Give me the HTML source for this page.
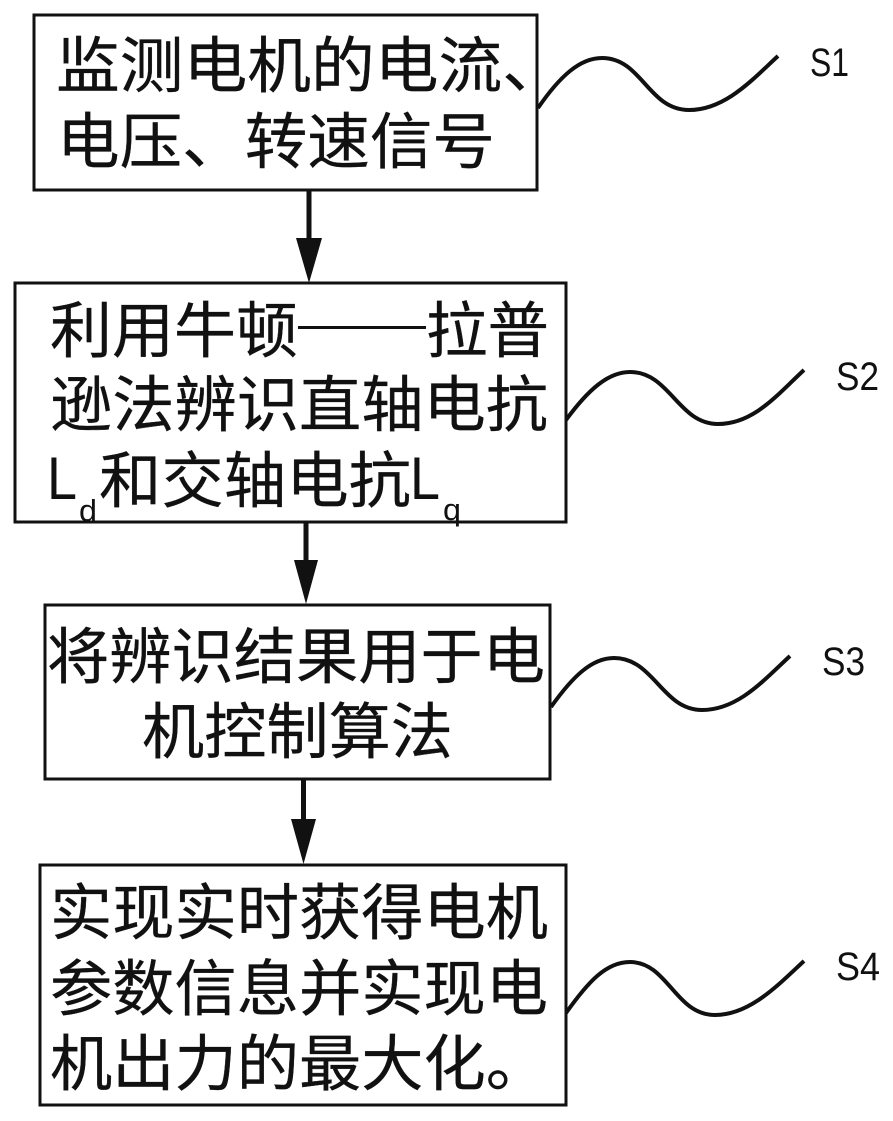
<!DOCTYPE html>
<html><head><meta charset="utf-8"><style>
html,body{margin:0;padding:0;background:#fff}
svg{display:block}
text{font-family:"Liberation Sans","Noto Sans CJK SC",sans-serif;fill:#111}
.c{font-size:61px;font-family:"WenQuanYi Zen Hei","Noto Sans CJK SC",sans-serif;stroke:#111;stroke-width:.3}
.l{font-size:60px}
.b{font-size:31px}
.s{font-size:40px}
</style></head><body>
<svg width="893" height="1121" viewBox="0 0 893 1121" xmlns="http://www.w3.org/2000/svg">
<g fill="none" stroke="#111" stroke-width="3">
<rect x="34" y="15" width="503" height="175"/>
<rect x="15" y="283" width="551" height="239"/>
<rect x="45" y="605" width="505" height="174"/>
<rect x="40" y="865" width="526" height="240"/>
</g>
<g fill="none" stroke="#111" stroke-width="4">
<path d="M538 108C560 76 580 58 602 58C642 58 648 110 689 110C725 110 752 80 778 56"/>
<path d="M566 420C588 390 608 372 630 372C670 372 678 424 718 424C754 424 778 394 804 370"/>
<path d="M551 707C573 676 592 658 614 658C654 658 662 710 702 710C738 710 764 680 790 656"/>
<path d="M566 1013C588 982 606 962 630 962C668 962 675 1015 715 1015C750 1015 778 985 804 961"/>
</g>
<g stroke="#111" stroke-width="5">
<line x1="309" y1="190" x2="309" y2="245"/>
<line x1="306" y1="522" x2="306" y2="565"/>
<line x1="303.5" y1="779" x2="303.5" y2="825"/>
</g>
<g fill="#111">
<polygon points="296,238 322,238 309,283"/>
<polygon points="294,560 318,560 306,604"/>
<polygon points="291,819 316,819 303.5,864"/>
</g>
<text class="c" x="56" y="87" textLength="510" lengthAdjust="spacingAndGlyphs">监测电机的电流、</text>
<text class="c" x="57" y="163" textLength="438" lengthAdjust="spacingAndGlyphs">电压、转速信号</text>
<text class="c" x="50" y="352" textLength="248" lengthAdjust="spacingAndGlyphs">利用牛顿</text>
<rect x="298" y="326" width="128" height="3" fill="#111"/>
<text class="c" x="426" y="352" textLength="123" lengthAdjust="spacingAndGlyphs">拉普</text>
<text class="c" x="50" y="426" textLength="498" lengthAdjust="spacingAndGlyphs">逊法辨识直轴电抗</text>
<text class="l" x="47" y="499" textLength="30" lengthAdjust="spacingAndGlyphs">L</text>
<text class="b" x="79" y="521" textLength="18" lengthAdjust="spacingAndGlyphs">d</text>
<text class="c" x="99" y="502" textLength="312" lengthAdjust="spacingAndGlyphs">和交轴电抗</text>
<text class="l" x="410" y="499" textLength="30" lengthAdjust="spacingAndGlyphs">L</text>
<text class="b" x="443" y="520" textLength="18" lengthAdjust="spacingAndGlyphs">q</text>
<text class="c" x="47" y="678" textLength="498" lengthAdjust="spacingAndGlyphs">将辨识结果用于电</text>
<text class="c" x="142" y="753" textLength="311" lengthAdjust="spacingAndGlyphs">机控制算法</text>
<text class="c" x="50" y="934" textLength="498" lengthAdjust="spacingAndGlyphs">实现实时获得电机</text>
<text class="c" x="50" y="1010" textLength="498" lengthAdjust="spacingAndGlyphs">参数信息并实现电</text>
<text class="c" x="50" y="1085" textLength="498" lengthAdjust="spacingAndGlyphs">机出力的最大化。</text>
<text class="s" x="810" y="76" textLength="39" lengthAdjust="spacingAndGlyphs">S1</text>
<text class="s" x="836" y="390" textLength="43" lengthAdjust="spacingAndGlyphs">S2</text>
<text class="s" x="822" y="675" textLength="43" lengthAdjust="spacingAndGlyphs">S3</text>
<text class="s" x="836" y="980" textLength="44" lengthAdjust="spacingAndGlyphs">S4</text>
</svg>
</body></html>
